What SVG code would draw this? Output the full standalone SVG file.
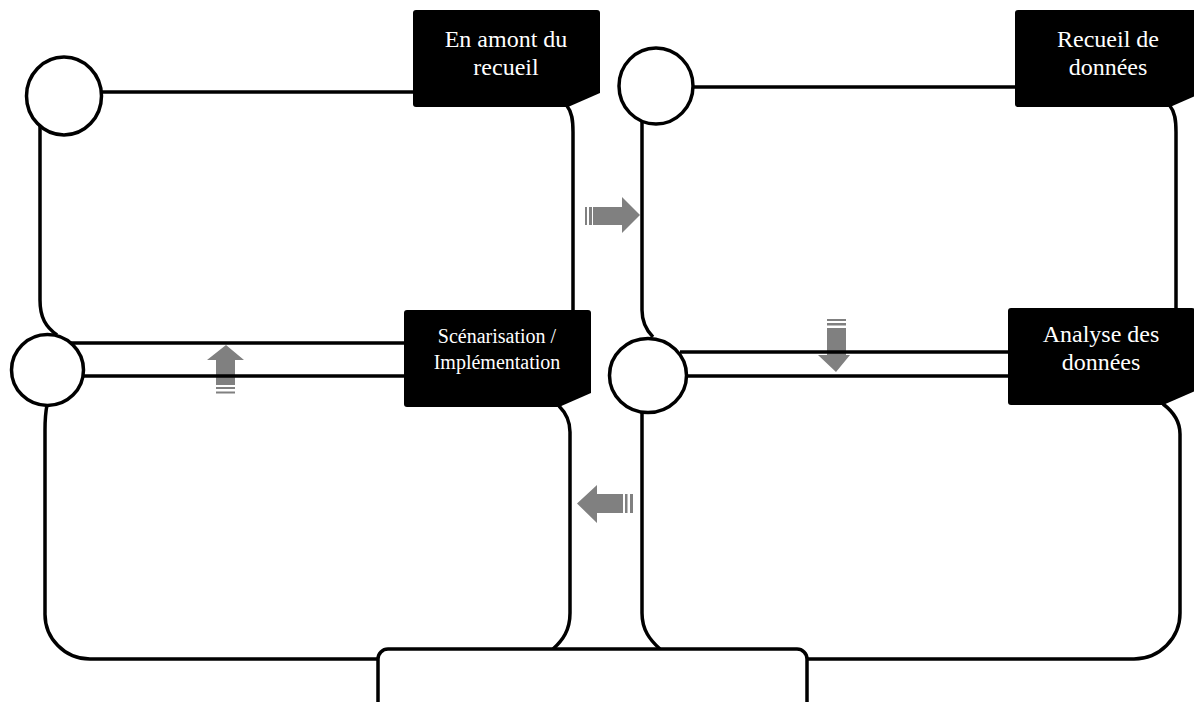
<svg xmlns="http://www.w3.org/2000/svg" width="1194" height="702" viewBox="0 0 1194 702">
<defs>
<style>
.ln{fill:none;stroke:#000;stroke-width:3.5;stroke-linecap:butt}
.cir{fill:#fff;stroke:#000;stroke-width:3.5}
.box{fill:#000}
.lbl{fill:#fff;font-family:"Liberation Serif","Times New Roman",serif;text-anchor:middle}
.big{font-size:24px}
.sm{font-size:20px}
.arr{fill:#808080}
</style>
</defs>
<rect width="1194" height="702" fill="#fff"/>
<g id="arrows">
<g id="arrow-right">
<rect class="arr" x="585" y="207" width="2" height="18"/>
<rect class="arr" x="589" y="207" width="3" height="18"/>
<polygon class="arr" points="593,207 622,207 622,197 640,215 622,233 622,225 593,225"/>
</g>
<g id="arrow-left">
<rect class="arr" x="630" y="494" width="3" height="19"/>
<rect class="arr" x="625" y="494" width="2.5" height="19"/>
<polygon class="arr" points="623,494 597,494 597,485 577,503.5 597,523 597,513 623,513"/>
</g>
<g id="arrow-up">
<rect class="arr" x="216" y="387" width="19" height="2"/>
<rect class="arr" x="216" y="391.5" width="19" height="2"/>
<polygon class="arr" points="216,385 216,360 207,360 226,345 244,360 235,360 235,385"/>
</g>
<g id="arrow-down">
<rect class="arr" x="827" y="319" width="19" height="2"/>
<rect class="arr" x="827" y="323" width="19" height="2.5"/>
<polygon class="arr" points="827,328 846,328 846,355 850,355 836,372 818,355 827,355"/>
</g>
</g>
<g id="connectors">
<path class="ln" d="M102,92 H414"/>
<path class="ln" d="M567,106 C572,112 573,120 573,132 V312"/>
<path class="ln" d="M40,125 V300 C40,318 46,327 57,335"/>
<path class="ln" d="M70,343 H405"/>
<path class="ln" d="M84,376 H405"/>
<path class="ln" d="M47,405 C45,415 45,420 45,430 V613 A45 45 0 0 0 90 659 H379"/>
<path class="ln" d="M559,406 C565,412 570,420 570,432 V613 C570,630 563,640 553,649"/>
<path class="ln" d="M693,87 H1016"/>
<path class="ln" d="M642,121 V310 C642,322 646,330 653,337"/>
<path class="ln" d="M1170,106 C1175,112 1176,120 1176,132 V310"/>
<path class="ln" d="M680,352 H1009"/>
<path class="ln" d="M688,376 H1009"/>
<path class="ln" d="M642,412 V613 C642,630 650,640 660,649"/>
<path class="ln" d="M1163,404 C1171,410 1180,420 1180,434 V613 A46 46 0 0 1 1134 659 H806"/>
</g>
<g id="node-q1">
<ellipse class="cir" cx="64" cy="96" rx="37.5" ry="39"/>
<path class="box" d="M416,10 H597 Q600,10 600,13 V93 L568,107 H416 Q413,107 413,104 V13 Q413,10 416,10 Z"/>
<text class="lbl big" x="506" y="47">En amont du</text>
<text class="lbl big" x="506" y="75">recueil</text>
</g>
<g id="node-q2">
<ellipse class="cir" cx="656" cy="86" rx="37" ry="38"/>
<path class="box" d="M1018,10 H1199 Q1202,10 1202,13 V93 L1170,107 H1018 Q1015,107 1015,104 V13 Q1015,10 1018,10 Z"/>
<text class="lbl big" x="1108" y="47">Recueil de</text>
<text class="lbl big" x="1108" y="75">données</text>
</g>
<g id="node-q3">
<ellipse class="cir" cx="47.5" cy="370" rx="36" ry="35.5"/>
<path class="box" d="M407,310 H588 Q591,310 591,313 V393 L559,407 H407 Q404,407 404,404 V313 Q404,310 407,310 Z"/>
<text class="lbl sm" x="497" y="343">Scénarisation /</text>
<text class="lbl sm" x="497" y="369">Implémentation</text>
</g>
<g id="node-q4">
<ellipse class="cir" cx="648" cy="375.5" rx="38.5" ry="37"/>
<path class="box" d="M1011,308 H1192 Q1195,308 1195,311 V391 L1163,405 H1011 Q1008,405 1008,402 V311 Q1008,308 1011,308 Z"/>
<text class="lbl big" x="1101" y="342">Analyse des</text>
<text class="lbl big" x="1101" y="370">données</text>
</g>
<g id="node-bottom">
<rect x="378" y="649" width="429" height="80" rx="10" ry="10" fill="#fff" stroke="#000" stroke-width="3.5"/>
</g>
</svg>
